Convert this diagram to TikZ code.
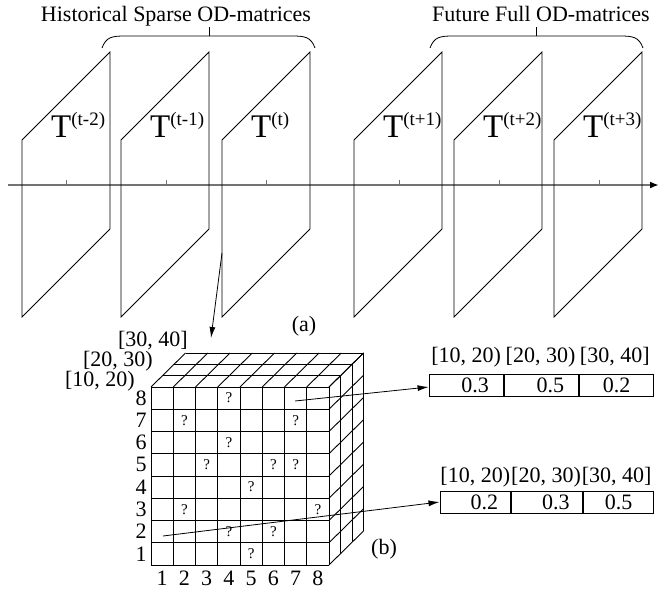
\documentclass[tikz,border=0pt]{standalone}
\usepackage{fontspec}
\setmainfont{Liberation Serif}
\usetikzlibrary{arrows.meta}

\newcommand{\Tsup}[1]{T\raisebox{11.5pt}{\fontsize{19}{19}\selectfont(#1)}}

\begin{document}
\begin{tikzpicture}[x=1pt,y=-1pt,
        plane/.style={black, line width=0.8pt},
        axis/.style={black!55, line width=2pt},
        cube/.style={black, line width=0.9pt},
        link/.style={black, line width=0.8pt, -{Latex[length=11pt,width=6pt]}},
        lbl/.style={inner sep=0pt, font=\fontsize{22}{24}\selectfont},
        tlabel/.style={inner sep=0pt, font=\fontsize{33}{36}\selectfont},
        qmark/.style={inner sep=0pt, font=\fontsize{15}{16}\selectfont},
        cell/.style={draw, line width=0.9pt, minimum height=22pt,
            inner sep=0pt, font=\fontsize{22}{24}\selectfont}]
        \tikzset{od plane/.pic={
            \draw[plane] (0,0) -- (88,-88) -- (88,89) -- (0,177) -- cycle;
        }}
        \useasboundingbox (0,0) rectangle (659,589);

        % Time axis.
        \draw[axis, -{Latex[length=9pt,width=7pt,color=black]}] (8,185) -- (659,185);
        \foreach \x in {66,166,266,399,499,599}
            \draw[black!55, line width=1pt] (\x,185) -- (\x,180);

        % The six OD-matrices.
        \foreach \x/\s/\n in {22/t-2/1,121/t-1/2,222/t/3,354/t+1/4,454/t+2/5,554/t+3/6}{
            \pic at (\x,140) {od plane};
            \node[tlabel, anchor=base west] (T\n) at (\x+29,137) {\Tsup{\s}};
        }

        % Braces over past and future.
        \draw[plane] (102,48) .. controls (106,37) and (112,36) .. (125,36)
            -- (292,36) .. controls (305,36) and (311,37) .. (315,48);
        \draw[plane] (209,36) -- (209,27);
        \draw[plane] (430,48) .. controls (434,37) and (440,36) .. (453,36)
            -- (620,36) .. controls (633,36) and (639,37) .. (643,48);
        \draw[plane] (536,36) -- (536,27);
        \node[lbl, anchor=base] (hist) at (176,21) {Historical Sparse OD-matrices};
        \node[lbl, anchor=base] (fut) at (541,21) {Future Full OD-matrices};
        \node[lbl] (capa) at (304,326) {(a)};

        % Zoom into the current matrix.
        \coordinate (p3) at (222,253);
        \coordinate (cubein) at (211,338);
        \draw[link] (p3) -- (cubein);

        % The 8 x 8 x 3 cube.
        \foreach \i in {0,...,8}{
            \draw[cube] (151+\i*22.25,387) -- (151+\i*22.25,565);
            \draw[cube] (151,387+\i*22.25) -- (329,387+\i*22.25);
            \draw[cube] (151+\i*22.25,387) -- ++(34.5,-34);
            \draw[cube] (329,387+\i*22.25) -- ++(34.5,-34);
        }
        \foreach \k in {1,2,3}{
            \draw[cube] (151+\k*11.5,387-\k*11.33) -- ++(178,0);
            \draw[cube] (329+\k*11.5,387-\k*11.33) -- ++(0,178);
        }
        \foreach \r in {1,...,8}
            \node[lbl] (row\r) at (141,565-\r*22.25+11.1) {\r};
        \foreach \c in {1,...,8}
            \node[lbl] (col\c) at (151+\c*22.25-11.1,578) {\c};
        \node[lbl, anchor=east] (d1) at (135,381) {[10, 20)};
        \node[lbl, anchor=east] (d2) at (153,361) {[20, 30)};
        \node[lbl, anchor=east] (d3) at (188,341) {[30, 40]};
        \foreach \c/\r in {4/8,2/7,7/7,4/6,3/5,6/5,7/5,5/4,2/3,8/3,4/2,6/2,5/1}
            \node[qmark] (q\c\r) at (151+\c*22.25-11.1,565-\r*22.25+11.1) {?};
        \node[lbl] (capb) at (384,549) {(b)};

        % Two cells and their distributions.
        \node[cell, minimum width=74.3pt] (b1a) at (466.2,385) {\hspace*{18pt}0.3};
        \node[cell, minimum width=74.3pt, anchor=west] (b1b) at (b1a.east) {\hspace*{18pt}0.5};
        \node[cell, minimum width=74.3pt, anchor=west] (b1c) at (b1b.east) {0.2};
        \node[cell, minimum width=70.7pt] (b2a) at (475.3,502) {\hspace*{18pt}0.2};
        \node[cell, minimum width=70.7pt, anchor=west] (b2b) at (b2a.east) {\hspace*{18pt}0.3};
        \node[cell, minimum width=70.7pt, anchor=west] (b2c) at (b2b.east) {0.5};
        \node[lbl] (h1a) at (466.2,357) {[10, 20)};
        \node[lbl] (h1b) at (540.5,357) {[20, 30)};
        \node[lbl] (h1c) at (614.8,357) {[30, 40]};
        \node[lbl] (h2a) at (475.3,477) {[10, 20)};
        \node[lbl] (h2b) at (546,477) {[20, 30)};
        \node[lbl] (h2c) at (616.7,477) {[30, 40]};

        \coordinate (c78) at (295,401);
        \coordinate (c12) at (163,536);
        \draw[link] (c78) -- ([yshift=-2pt]b1a.west);
        \draw[link] (c12) -- (b2a.west);
    \end{tikzpicture}
\end{document}
